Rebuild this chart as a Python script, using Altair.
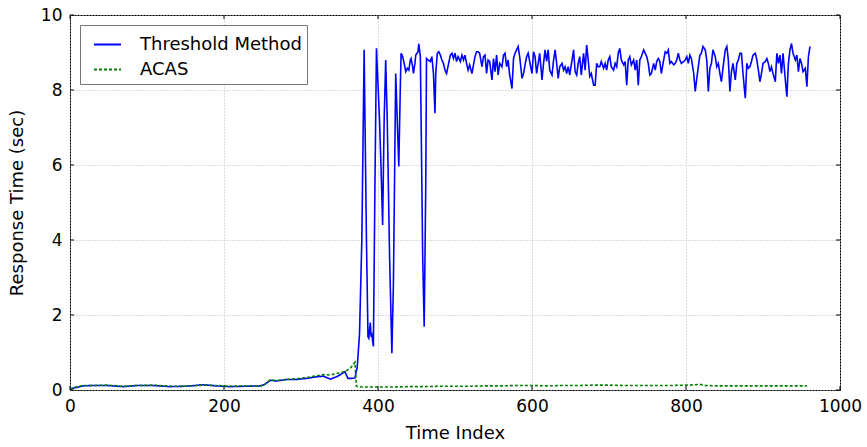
import altair as alt
import pandas as pd

SERIES = ["Threshold Method", "ACAS"]
X_TICKS = [0, 200, 400, 600, 800, 1000]
Y_TICKS = [0, 2, 4, 6, 8, 10]

# Threshold Method: low phase
thr_t_low = [0, 4, 9, 17, 30, 48, 69, 87, 108, 130, 151, 173, 190, 208, 229, 247, 253, 260, 268, 281,
             294, 307, 320, 329, 338, 346, 352, 357, 361, 366, 370]
thr_v_low = [0.02, 0.05, 0.07, 0.11, 0.12, 0.12, 0.09, 0.12, 0.12, 0.09, 0.10, 0.14, 0.11, 0.09, 0.10, 0.11,
             0.15, 0.26, 0.24, 0.28, 0.28, 0.31, 0.35, 0.37, 0.29, 0.35, 0.42, 0.49, 0.31, 0.31, 0.32]

# Threshold Method: transition phase
thr_t_mid = [373, 376, 379, 382, 385, 387, 388, 390, 391, 392, 394, 396, 398, 402, 404, 406, 408, 410, 412, 415,
             418, 420, 423, 425, 427, 429, 430, 432, 434, 436, 438, 440, 442, 443, 445, 446, 448, 449, 452, 453,
             455, 456, 458, 460, 462, 463, 465, 468, 470, 472, 474, 475, 477, 479, 481, 483, 485, 487, 489]
thr_v_mid = [0.6, 1.5, 4.0, 9.07, 4.0, 1.42, 1.38, 1.80, 1.42, 1.47, 1.16, 5.4, 9.11, 7.2, 5.9, 4.4, 7.2, 8.8, 7.2, 3.6,
             0.98, 2.8, 8.44, 7.2, 5.96, 8.09, 8.98, 8.89, 8.71, 8.49, 8.58, 8.53, 8.80, 8.84, 8.62, 8.44, 8.71, 8.93, 9.02, 9.23,
             8.89, 7.2, 3.6, 1.69, 5.4, 8.84, 8.80, 8.76, 8.89, 8.44, 7.38, 8.44, 8.98, 9.02, 8.93, 8.80, 8.71, 8.53, 8.44]

# Threshold Method: saturated phase
thr_t_high = [494, 496, 498, 500, 502, 504, 507, 509, 511, 513, 515, 517, 519, 522, 524, 526, 528, 530, 532, 535,
              537, 539, 541, 543, 545, 548, 550, 552, 554, 556, 558, 561, 563, 565, 567, 569, 571, 574, 576, 578,
              580, 582, 584, 587, 589, 591, 593, 595, 597, 600, 602, 604, 606, 608, 610, 613, 615, 617, 619, 621,
              623, 626, 628, 630, 632, 634, 636, 639, 641, 643, 645, 647, 649, 652, 654, 656, 658, 660, 662, 664,
              667, 669, 671, 673, 675, 677, 680, 682, 684, 686, 688, 690, 693, 695, 697, 699, 701, 703, 706, 708,
              710, 712, 714, 716, 719, 721, 723, 725, 727, 729, 732, 734, 736, 738, 740, 742, 745, 747, 749, 751,
              753, 755, 758, 760, 762, 764, 766, 768, 771, 773, 775, 777, 779, 781, 784, 786, 788, 790, 792, 794,
              797, 799, 801, 803, 805, 807, 810, 812, 814, 816, 818, 820, 822, 825, 827, 829, 831, 833, 835, 838,
              840, 842, 844, 846, 848, 851, 853, 855, 857, 859, 861, 864, 866, 868, 870, 872, 874, 877, 879, 881,
              883, 885, 887, 890, 892, 894, 896, 898, 900, 903, 905, 907, 909, 911, 913, 916, 918, 920, 922, 924,
              926, 929, 931, 933, 935, 937, 939, 942, 944, 946, 948, 950, 952, 955, 957, 959, 961]
thr_v_high = [8.93, 8.98, 8.84, 8.98, 8.76, 8.89, 8.76, 8.93, 8.80, 8.93,
              8.71, 8.53, 8.67, 8.44, 8.67, 8.89, 9.02, 9.02, 8.98, 8.62,
              8.89, 8.93, 8.44, 8.80, 8.76, 8.27, 8.84, 8.49, 8.93, 8.40,
              8.71, 8.62, 8.93, 8.98, 8.62, 8.80, 8.40, 8.04, 8.84, 8.98,
              9.07, 9.16, 8.89, 8.31, 8.44, 8.67, 8.89, 8.98, 8.76, 8.44,
              9.02, 8.89, 8.44, 8.71, 8.98, 8.27, 8.71, 9.07, 8.76, 9.07,
              8.53, 8.40, 8.80, 9.07, 8.71, 8.31, 8.62, 8.71, 8.53, 8.62,
              8.44, 8.62, 8.40, 8.80, 9.07, 8.49, 8.40, 8.71, 8.89, 8.40,
              8.98, 8.53, 9.20, 8.80, 8.36, 8.44, 8.13, 8.13, 8.71, 8.62,
              8.62, 8.76, 8.58, 8.71, 8.53, 8.80, 8.89, 8.62, 8.53, 8.71,
              8.62, 8.98, 9.11, 8.80, 8.67, 8.76, 8.13, 8.80, 8.89, 8.67,
              8.80, 8.53, 8.80, 8.13, 8.80, 8.89, 9.07, 8.98, 8.89, 8.71,
              8.40, 8.44, 8.71, 8.53, 8.76, 8.84, 8.76, 8.44, 8.80, 9.02,
              8.98, 9.07, 8.71, 8.76, 8.67, 8.71, 8.80, 8.98, 8.80, 8.71,
              8.76, 8.80, 8.89, 8.71, 8.93, 8.84, 8.44, 7.96, 8.31, 8.62,
              8.93, 8.98, 9.16, 9.07, 8.80, 7.96, 8.58, 8.71, 9.07, 8.89,
              8.62, 8.71, 8.44, 8.22, 8.58, 9.07, 9.16, 8.80, 7.96, 8.49,
              8.71, 8.27, 8.71, 8.80, 8.98, 8.98, 8.44, 7.78, 8.71, 8.58,
              8.62, 8.76, 8.93, 8.98, 8.80, 8.53, 8.22, 8.44, 8.71, 8.76,
              8.84, 8.71, 8.49, 8.62, 8.44, 8.22, 8.98, 8.71, 8.93, 8.44,
              8.98, 8.27, 7.82, 8.71, 9.07, 9.24, 8.98, 8.80, 8.93, 8.49,
              8.84, 8.71, 8.49, 8.58, 8.09, 8.89, 9.16]

# ACAS
acas_t = [0, 4, 17, 30, 48, 69, 87, 108, 130, 151, 173, 190, 208, 229, 247, 253, 260, 268, 281, 294,
          307, 320, 329, 338, 346, 357, 364, 370, 372, 380, 400, 420, 440, 460, 480, 500, 520, 540, 560, 580,
          600, 620, 640, 660, 680, 700, 720, 740, 760, 780, 800, 812, 818, 825, 840, 860, 880, 900, 920, 940, 957]
acas_v = [0.02, 0.06, 0.12, 0.12, 0.13, 0.10, 0.12, 0.13, 0.10, 0.10, 0.13, 0.12, 0.10, 0.11, 0.10, 0.15, 0.27, 0.25, 0.28, 0.30,
          0.33, 0.38, 0.41, 0.40, 0.44, 0.49, 0.58, 0.74, 0.10, 0.08, 0.08, 0.08, 0.09, 0.09, 0.10, 0.10, 0.10, 0.11, 0.11, 0.12,
          0.12, 0.11, 0.12, 0.12, 0.13, 0.13, 0.12, 0.12, 0.12, 0.12, 0.13, 0.14, 0.15, 0.12, 0.11, 0.11, 0.11, 0.11, 0.11, 0.11, 0.11]

thr_t = thr_t_low + thr_t_mid + thr_t_high
thr_v = thr_v_low + thr_v_mid + thr_v_high

rows = []
for t, v in zip(thr_t, thr_v):
    rows.append({"t": t, "v": v, "series": SERIES[0]})
for t, v in zip(acas_t, acas_v):
    rows.append({"t": t, "v": v, "series": SERIES[1]})
df = pd.DataFrame(rows)

W, H = 770, 375
FONT = "DejaVu Sans"
xs = alt.Scale(domain=[0, 1000], nice=False, zero=False)
ys = alt.Scale(domain=[0, 10], nice=False, zero=False)
x_axis = alt.Axis(values=X_TICKS, title="Time Index", format="d", labelPadding=8, titlePadding=10)
y_axis = alt.Axis(values=Y_TICKS, title="Response Time (sec)", format="d", labelPadding=8, titlePadding=14)

leg = alt.Legend(title=None, orient="none", legendX=10, legendY=10, labelLimit=400)

lines = alt.Chart(df).mark_line(strokeWidth=1.6).encode(
    x=alt.X("t:Q", scale=xs, axis=x_axis),
    y=alt.Y("v:Q", scale=ys, axis=y_axis),
    color=alt.Color("series:N", scale=alt.Scale(domain=SERIES, range=["#0000ff", "#008000"]), legend=leg),
    strokeDash=alt.StrokeDash("series:N", scale=alt.Scale(domain=SERIES, range=[[1, 0], [3, 2]]), legend=leg),
)

xt = pd.DataFrame({"t": X_TICKS})
yt = pd.DataFrame({"v": Y_TICKS})
tick_style = dict(color="black", strokeWidth=1)
bottom = alt.Chart(xt).mark_rule(**tick_style).encode(
    x=alt.X("t:Q", scale=xs, axis=x_axis), y=alt.value(H), y2=alt.value(H - 4))
top = alt.Chart(xt).mark_rule(**tick_style).encode(
    x=alt.X("t:Q", scale=xs, axis=x_axis), y=alt.value(0), y2=alt.value(4))
left = alt.Chart(yt).mark_rule(**tick_style).encode(
    y=alt.Y("v:Q", scale=ys, axis=y_axis), x=alt.value(0), x2=alt.value(4))
right = alt.Chart(yt).mark_rule(**tick_style).encode(
    y=alt.Y("v:Q", scale=ys, axis=y_axis), x=alt.value(W), x2=alt.value(W - 4))

chart = alt.layer(lines, bottom, top, left, right).properties(
    width=W, height=H,
    padding={"left": 70, "top": 15, "right": 27, "bottom": 57},
    autosize=alt.AutoSizeParams(type="none"),
).configure_view(
    stroke="black", strokeWidth=1
).configure_axis(
    domain=False, ticks=False, grid=True,
    gridColor="#b8b8b8", gridDash=[1, 2], gridWidth=1,
    labelFont=FONT, labelFontSize=17, labelColor="black",
    titleFont=FONT, titleFontSize=18, titleFontWeight="normal", titleColor="black",
    labelFlush=False, labelOverlap=False, labelBound=False,
).configure_legend(
    fillColor="white", strokeColor="#777777", strokeWidth=1, cornerRadius=0,
    padding=5, symbolOffset=8,
    labelFont=FONT, labelFontSize=18, labelColor="black",
    symbolType="stroke", symbolSize=729, symbolStrokeWidth=2,
    labelOffset=18, rowPadding=1,
)

chart.save("out.html", embed_options={"renderer": "svg", "actions": False})
